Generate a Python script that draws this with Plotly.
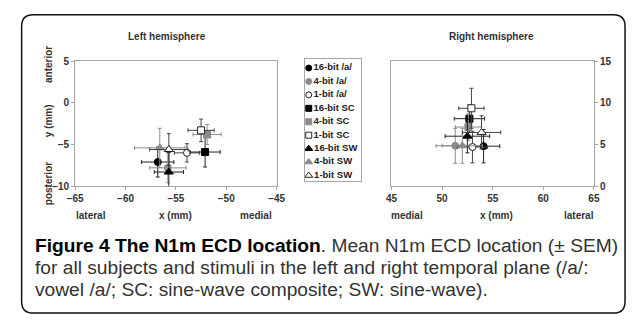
import plotly.graph_objects as go

W, H = 636, 322

series = ["16-bit /a/", "4-bit /a/", "1-bit /a/",
          "16-bit SC", "4-bit SC", "1-bit SC",
          "16-bit SW", "4-bit SW", "1-bit SW"]

# Left hemisphere (mm)
left_x = [-56.8, -55.8, -53.9, -52.1, -51.9, -52.5, -55.7, -56.6, -55.7]
left_y = [-7.1, -7.8, -6.0, -5.9, -3.8, -3.3, -8.3, -5.4, -5.6]
left_xerr = [1.6, 1.8, 1.25, 1.5, 1.4, 1.3, 1.45, 2.5, 1.9]
left_yerr = [1.8, 1.8, 1.1, 1.8, 1.2, 1.35, 2.35, 2.35, 1.9]

# Right hemisphere (mm)
right_x = [54.1, 51.3, 53.0, 52.7, 52.6, 52.9, 52.5, 52.0, 53.9]
right_y = [4.8, 4.85, 4.7, 8.1, 7.1, 9.35, 6.0, 4.85, 6.45]
right_xerr = [1.6, 1.9, 1.5, 1.5, 1.3, 1.25, 2.2, 2.0, 1.9]
right_yerr = [2.0, 2.1, 1.9, 1.65, 1.6, 2.4, 2.0, 2.1, 2.0]

x_ticks_left = [-65, -60, -55, -50, -45]
y_ticks_left = [5, 0, -5, -10]
x_ticks_right = [45, 50, 55, 60, 65]
y_ticks_right = [0, 5, 10, 15]

BLACK, GRAY, WHITE = "#000000", "#8c8c8c", "#ffffff"
fills = [BLACK, GRAY, WHITE] * 3
lines = [BLACK, GRAY, "#222222"] * 3
errc = ["#222222", "#8c8c8c", "#444444"] * 3
symbols = ["circle"] * 3 + ["square"] * 3 + ["triangle-up"] * 3
sizes = [7] * 3 + [7] * 3 + [8] * 3

def px(x):
    return x / W

def py(y):
    return 1 - y / H

fig = go.Figure()

for i, name in enumerate(series):
    for xs, ys, xe, ye, xa, ya in [
        (left_x, left_y, left_xerr, left_yerr, "x", "y"),
        (right_x, right_y, right_xerr, right_yerr, "x2", "y2"),
    ]:
        fig.add_trace(go.Scatter(
            x=[xs[i]], y=[ys[i]], mode="markers", name=name, showlegend=False,
            xaxis=xa, yaxis=ya,
            marker=dict(symbol=symbols[i], size=sizes[i], color=fills[i],
                        line=dict(color=lines[i], width=1)),
            error_x=dict(type="data", array=[xe[i]], color=errc[i], thickness=1, width=2),
            error_y=dict(type="data", array=[ye[i]], color=errc[i], thickness=1, width=2),
        ))

# legend drawn on its own small axis
for i, name in enumerate(series):
    fig.add_trace(go.Scatter(
        x=[4], y=[i], mode="markers+text", text=[name], textposition="middle right",
        textfont=dict(family="Liberation Sans", size=9.5, color="#222222", weight="bold"),
        xaxis="x3", yaxis="y3", showlegend=False, hoverinfo="skip",
        marker=dict(symbol=symbols[i], size=sizes[i] - 1, color=fills[i],
                    line=dict(color=lines[i], width=1)),
    ))

tickfont = dict(family="Liberation Sans", size=10, color="#333333", weight="bold")
axcommon = dict(showline=True, mirror=True, linecolor="#a6a6a6", linewidth=1,
                showgrid=False, zeroline=False, ticks="outside", ticklen=3,
                tickcolor="#a6a6a6", tickfont=tickfont)

fig.update_layout(
    width=W, height=H, autosize=False,
    margin=dict(l=0, r=0, t=0, b=0),
    paper_bgcolor="white", plot_bgcolor="white",
    xaxis=dict(domain=[px(69), px(276)], range=[-65, -45], tickvals=x_ticks_left,
               anchor="y", **axcommon),
    yaxis=dict(domain=[py(187), py(58)], range=[-10, 5], tickvals=y_ticks_left,
               anchor="x", **axcommon),
    xaxis2=dict(domain=[px(394), px(602)], range=[45, 65], tickvals=x_ticks_right,
                anchor="y2", **axcommon),
    yaxis2=dict(domain=[py(187), py(58)], range=[0, 15], tickvals=y_ticks_right,
                anchor="x2", side="right", **axcommon),
    xaxis3=dict(domain=[px(305), px(363)], range=[0, 58], showline=True, mirror=True,
                linecolor="#a6a6a6", showgrid=False, zeroline=False,
                showticklabels=False, ticks="", anchor="y3", fixedrange=True),
    yaxis3=dict(domain=[py(182), py(56)], range=[8.432, -0.649], showline=True, mirror=True,
                linecolor="#a6a6a6", showgrid=False, zeroline=False,
                showticklabels=False, ticks="", anchor="x3", fixedrange=True),
)

# rounded outer frame
L, R, T, B, r = 14, 634, 10, 318, 12
path = (f"M {px(L + r)} {py(T)} L {px(R - r)} {py(T)} Q {px(R)} {py(T)} {px(R)} {py(T + r)} "
        f"L {px(R)} {py(B - r)} Q {px(R)} {py(B)} {px(R - r)} {py(B)} "
        f"L {px(L + r)} {py(B)} Q {px(L)} {py(B)} {px(L)} {py(B - r)} "
        f"L {px(L)} {py(T + r)} Q {px(L)} {py(T)} {px(L + r)} {py(T)} Z")
fig.add_shape(type="path", path=path, xref="paper", yref="paper",
              line=dict(color="#111111", width=1.5))

lab = dict(family="Liberation Sans", size=10, color="#333333")

def ann(text, x, y, angle=0, font=lab, xanchor="center"):
    fig.add_annotation(text=text, x=px(x), y=py(y), xref="paper", yref="paper",
                       showarrow=False, textangle=angle, font=font,
                       xanchor=xanchor, yanchor="middle")

ann("<b>Left hemisphere</b>", 163, 33)
ann("<b>Right hemisphere</b>", 497, 32)
ann("<b>anterior</b>", 41, 61, -90)
ann("<b>y (mm)</b>", 41, 119, -90)
ann("<b>posterior</b>", 41, 184, -90)
ann("<b>lateral</b>", 85, 217)
ann("<b>x (mm)</b>", 172, 217)
ann("<b>medial</b>", 255, 217)
ann("<b>medial</b>", 410, 217)
ann("<b>x (mm)</b>", 502, 217)
ann("<b>lateral</b>", 587, 217)

cap = dict(family="Liberation Sans", size=19.2, color="#333333")
ann("<b style='color:#000'>Figure 4 The N1m ECD location</b>. Mean N1m ECD location (± SEM)",
    26, 248, font=cap, xanchor="left")
ann("for all subjects and stimuli in the left and right temporal plane (/a/:",
    26, 271, font=cap, xanchor="left")
ann("vowel /a/; SC: sine-wave composite; SW: sine-wave).",
    26, 294, font=cap, xanchor="left")

fig.write_html("out.html")
